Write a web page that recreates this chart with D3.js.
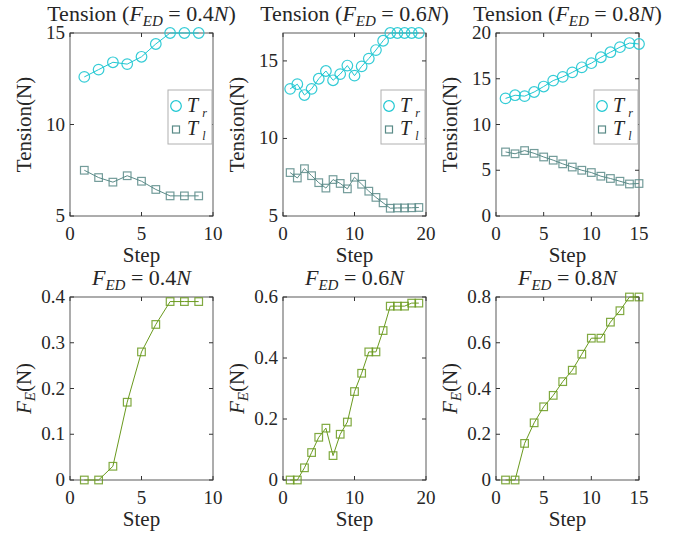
<!DOCTYPE html>
<html>
<head>
<meta charset="utf-8">
<script src="https://cdn.jsdelivr.net/npm/d3@7"></script>
</head>
<body style="margin:0; background:#fff">
<script>
// datos
var steps9  = [1, 2, 3, 4, 5, 6, 7, 8, 9]
var steps19 = [1, 2, 3, 4, 5, 6, 7, 8, 9, 10, 11, 12, 13, 14, 15, 16, 17, 18, 19]
var steps15 = [1, 2, 3, 4, 5, 6, 7, 8, 9, 10, 11, 12, 13, 14, 15]

var tr04 = [12.6, 13.0, 13.4, 13.3, 13.7, 14.4, 15.0, 15.0, 15.0]
var tl04 = [7.5, 7.1, 6.85, 7.2, 6.9, 6.45, 6.1, 6.1, 6.1]
var tr06 = [13.2, 13.5, 12.8, 13.2, 13.85, 14.35, 13.75, 14.15, 14.7, 14.05, 14.65, 15.15, 15.7, 16.3, 16.8, 16.8, 16.8, 16.8, 16.8]
var tl06 = [7.8, 7.45, 8.05, 7.6, 7.15, 6.8, 7.35, 7.1, 6.75, 7.5, 7.05, 6.6, 6.2, 5.85, 5.5, 5.52, 5.52, 5.53, 5.55]
var tr08 = [12.85, 13.2, 13.1, 13.55, 14.15, 14.8, 15.2, 15.7, 16.25, 16.7, 17.35, 17.9, 18.45, 18.9, 18.8]
var tl08 = [7.0, 6.8, 7.15, 6.85, 6.45, 6.1, 5.7, 5.35, 5.0, 4.75, 4.35, 4.1, 3.8, 3.5, 3.55]

var fe04 = [0, 0, 0.03, 0.17, 0.28, 0.34, 0.39, 0.39, 0.39]
var fe06 = [0, 0, 0.04, 0.09, 0.14, 0.17, 0.08, 0.15, 0.19, 0.29, 0.35, 0.42, 0.42, 0.49, 0.57, 0.57, 0.57, 0.58, 0.58]
var fe08 = [0, 0, 0.16, 0.25, 0.32, 0.37, 0.43, 0.48, 0.55, 0.62, 0.62, 0.69, 0.74, 0.80, 0.80]

var fedLabels = ["0.4", "0.6", "0.8"]

var xTicks = [[0, 5, 10], [0, 10, 20], [0, 5, 10, 15]]
var xDom   = [[0, 10], [0, 20], [0, 15]]
var yTicksT = [[5, 10, 15], [5, 10, 15], [0, 5, 10, 15, 20]]
var yDomT   = [[5, 15], [5, 16.8], [0, 20]]
var yTicksF = [[0, 0.1, 0.2, 0.3, 0.4], [0, 0.2, 0.4, 0.6], [0, 0.2, 0.4, 0.6, 0.8]]
var yDomF   = [[0, 0.4], [0, 0.6], [0, 0.8]]

var colTr = "#1fc7d2", colTl = "#5a8b88", colFE = "#6a9a1e"

var W = 678, H = 533
var lefts = [70, 283, 496], pw = 143
var tops = [33, 297], ph = 183

var svg = d3.select("body").append("svg")
    .attr("width", W)
    .attr("height", H)
    .attr("font-family", "Times New Roman")

// texto serif (fuente puesta como atributo y como estilo)
function texto(g, size) {
    return g.append("text")
        .attr("font-family", "Times New Roman")
        .style("font-family", "'Times New Roman'")
        .style("font-size", size + "px")
        .attr("fill", "#262626")
}

function ejes(g, x, y, xt, yt, ylabel) {
    // caja del eje
    g.append("rect")
        .attr("width", pw).attr("height", ph)
        .attr("fill", "none").attr("stroke", "#5a5a5a").attr("stroke-width", 1)

    // ticks hacia dentro en los cuatro lados
    xt.forEach(function(t) {
        g.append("line").attr("x1", x(t)).attr("x2", x(t)).attr("y1", ph).attr("y2", ph - 4).attr("stroke", "#333")
        g.append("line").attr("x1", x(t)).attr("x2", x(t)).attr("y1", 0).attr("y2", 4).attr("stroke", "#333")
        texto(g, 19).attr("x", x(t)).attr("y", ph + 24)
            .attr("text-anchor", "middle").text(t)
    })
    yt.forEach(function(t) {
        g.append("line").attr("x1", 0).attr("x2", 4).attr("y1", y(t)).attr("y2", y(t)).attr("stroke", "#333")
        g.append("line").attr("x1", pw).attr("x2", pw - 4).attr("y1", y(t)).attr("y2", y(t)).attr("stroke", "#333")
        texto(g, 19).attr("x", -5).attr("y", y(t) + 6)
            .attr("text-anchor", "end").text(t)
    })

    texto(g, 21).attr("x", pw / 2).attr("y", ph + 46)
        .attr("text-anchor", "middle").text("Step")

    var yl = texto(g, 21)
        .attr("transform", "translate(-39," + (ph / 2) + ") rotate(-90)")
        .attr("text-anchor", "middle")
    if (ylabel == "T") {
        yl.text("Tension(N)")
    } else {
        yl.append("tspan").attr("font-style", "italic").text("F")
        yl.append("tspan").attr("font-style", "italic").attr("font-size", "15px").attr("dy", 4).text("E")
        yl.append("tspan").attr("dy", -4).text("(N)")
    }
}

function serie(g, x, y, xs, ys, color, marker) {
    var pts = xs.map(function(d, i) { return [d, ys[i]] })
    g.append("path")
        .datum(pts)
        .attr("fill", "none").attr("stroke", color).attr("stroke-width", 1)
        .attr("d", d3.line().x(d => x(d[0])).y(d => y(d[1])))
    if (marker == "o") {
        g.selectAll(null).data(pts).enter().append("circle")
            .attr("cx", d => x(d[0])).attr("cy", d => y(d[1])).attr("r", 5.3)
            .attr("fill", "none").attr("stroke", color).attr("stroke-width", 1.2).attr("stroke-opacity", 0.9)
    } else {
        g.selectAll(null).data(pts).enter().append("rect")
            .attr("x", d => x(d[0]) - 3.8).attr("y", d => y(d[1]) - 3.8)
            .attr("width", 7.6).attr("height", 7.6)
            .attr("fill", "none").attr("stroke", color).attr("stroke-width", 1.2).attr("stroke-opacity", 0.85)
    }
}

function titulo(g, fed, conTension) {
    var t = texto(g, 22).attr("x", pw / 2).attr("y", -12)
        .attr("text-anchor", "middle")
    if (conTension) t.append("tspan").text("Tension (")
    t.append("tspan").attr("font-style", "italic").text("F")
    t.append("tspan").attr("font-style", "italic").attr("font-size", "15px").attr("dy", 5).text("ED")
    t.append("tspan").attr("dy", -5).text(" = " + fed)
    t.append("tspan").attr("font-style", "italic").text("N")
    if (conTension) t.append("tspan").text(")")
}

function leyenda(g) {
    var lx = pw - 45, ly = 57
    g.append("rect").attr("x", lx).attr("y", ly).attr("width", 44).attr("height", 54)
        .attr("fill", "#fff").attr("stroke", "#b0b0b0").attr("stroke-width", 1)
    g.append("circle").attr("cx", lx + 8).attr("cy", ly + 16).attr("r", 5.3)
        .attr("fill", "none").attr("stroke", colTr).attr("stroke-width", 1.2)
    g.append("rect").attr("x", lx + 4.5).attr("y", ly + 36).attr("width", 7).attr("height", 7)
        .attr("fill", "none").attr("stroke", colTl).attr("stroke-width", 1.2)
    var nombres = ["r", "l"]
    nombres.forEach(function(n, i) {
        var t = texto(g, 20).attr("x", lx + 19).attr("y", ly + 22 + i * 23)
        t.append("tspan").attr("font-style", "italic").text("T")
        t.append("tspan").attr("font-style", "italic").attr("font-size", "12px").attr("dx", 4).attr("dy", 5).text(n)
    })
}

var tensiones = [[steps9, tr04, tl04], [steps19, tr06, tl06], [steps15, tr08, tl08]]
var fuerzas = [[steps9, fe04], [steps19, fe06], [steps15, fe08]]

for (var i = 0; i < 3; i++) {
    // fila superior: tensiones
    var g = svg.append("g").attr("transform", "translate(" + lefts[i] + "," + tops[0] + ")")
    var x = d3.scaleLinear().domain(xDom[i]).range([0, pw])
    var y = d3.scaleLinear().domain(yDomT[i]).range([ph, 0])
    ejes(g, x, y, xTicks[i], yTicksT[i], "T")
    serie(g, x, y, tensiones[i][0], tensiones[i][2], colTl, "s")
    serie(g, x, y, tensiones[i][0], tensiones[i][1], colTr, "o")
    titulo(g, fedLabels[i], true)
    leyenda(g)

    // fila inferior: fuerza F_E
    var g2 = svg.append("g").attr("transform", "translate(" + lefts[i] + "," + tops[1] + ")")
    var y2 = d3.scaleLinear().domain(yDomF[i]).range([ph, 0])
    ejes(g2, x, y2, xTicks[i], yTicksF[i], "F")
    serie(g2, x, y2, fuerzas[i][0], fuerzas[i][1], colFE, "s")
    titulo(g2, fedLabels[i], false)
}
</script>
</body>
</html>
